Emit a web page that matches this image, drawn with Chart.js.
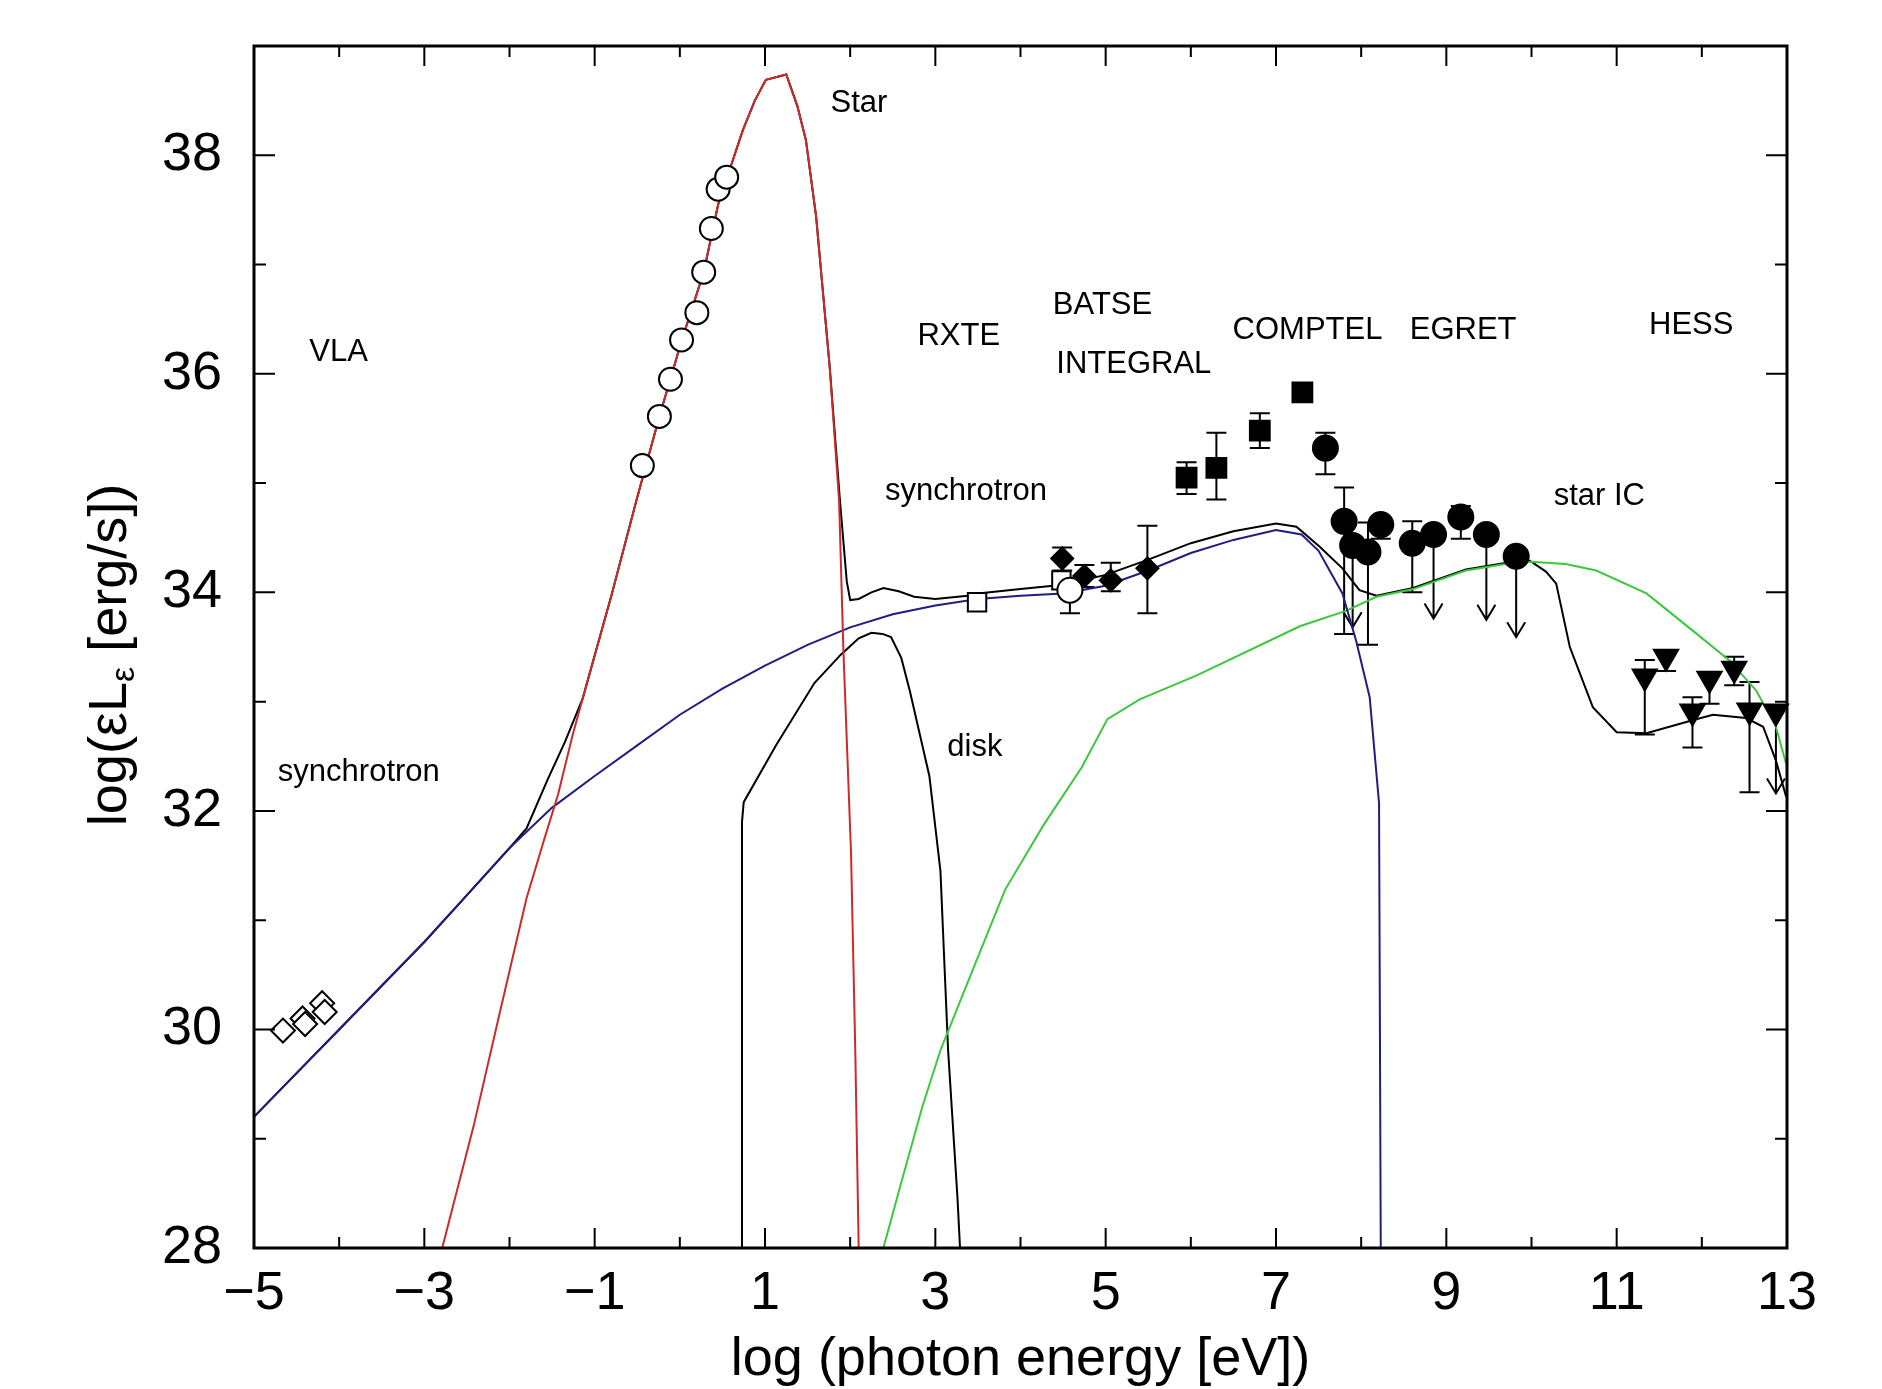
<!DOCTYPE html>
<html>
<head>
<meta charset="utf-8">
<title>SED</title>
<script src="https://cdn.jsdelivr.net/npm/chart.js@4.4.1/dist/chart.umd.min.js"></script>
<style>
  html, body { margin: 0; padding: 0; background: #fff; }
  #sed { display: block; }
</style>
</head>
<body>
<canvas id="sed" width="1882" height="1389"></canvas>
<script>
// axis tick labels
const xTicks = [-5, -3, -1, 1, 3, 5, 7, 9, 11, 13];
const xTickLabels = ["\u22125", "\u22123", "\u22121", "1", "3", "5", "7", "9", "11", "13"];
const yTicks = [28, 30, 32, 34, 36, 38];
const yTickLabels = ["28", "30", "32", "34", "36", "38"];

// model curves
const starX = [-2.79, -2.42, -2.1, -1.8, -1.6, -1.43, -1.26, -1.14, -0.8, -0.51, -0.24, 0.02, 0.28, 0.45, 0.62, 0.74, 0.88, 1.01, 1.25, 1.38, 1.48, 1.6, 1.76, 1.87, 1.92, 2.01, 2.06, 2.1];
const starY = [28.0, 29.12, 30.2, 31.2, 31.72, 32.15, 32.69, 33.03, 33.98, 34.84, 35.61, 36.3, 36.93, 37.55, 37.95, 38.23, 38.5, 38.69, 38.74, 38.45, 38.14, 37.44, 36.06, 34.84, 33.48, 31.62, 29.81, 28.0];

const syncX = [-5, -4.5, -4, -3.5, -3, -2.5, -2, -1.5, -1, -0.5, 0, 0.5, 1, 1.5, 2, 2.5, 3, 3.5, 4, 4.5, 5, 5.5, 6, 6.5, 7, 7.3, 7.5, 7.78, 7.94, 8.1, 8.21, 8.23];
const syncY = [29.2, 29.6, 30.0, 30.4, 30.8, 31.23, 31.66, 32.03, 32.32, 32.6, 32.88, 33.12, 33.33, 33.52, 33.68, 33.8, 33.88, 33.94, 33.97, 33.99, 34.06, 34.2, 34.36, 34.48, 34.57, 34.53, 34.38, 33.99, 33.56, 33.04, 32.07, 28.0];

const totalX = [-5, -4.5, -4, -3.5, -3, -2.5, -2, -1.8, -1.55, -1.35, -1.14, -0.8, -0.51, -0.24, 0.02, 0.28, 0.45, 0.62, 0.74, 0.88, 1.01, 1.25, 1.38, 1.48, 1.6, 1.76, 1.88, 1.96, 2.0, 2.1, 2.25, 2.39, 2.57, 2.75, 3.0, 3.38, 3.5, 4.0, 4.5, 5.0, 5.5, 6.0, 6.5, 7.0, 7.24, 7.51, 7.78, 7.98, 8.18, 8.61, 9.23, 9.78, 9.98, 10.17, 10.29, 10.45, 10.72, 11.0, 11.35, 11.89, 12.13, 12.52, 12.72, 12.87, 12.99];
const totalY = [29.2, 29.6, 30.0, 30.4, 30.8, 31.23, 31.66, 31.84, 32.29, 32.63, 33.03, 33.98, 34.84, 35.61, 36.3, 36.93, 37.55, 37.95, 38.23, 38.5, 38.69, 38.74, 38.45, 38.14, 37.44, 36.06, 34.84, 34.1, 33.93, 33.94, 34.0, 34.04, 34.01, 33.96, 33.94, 33.97, 33.99, 34.03, 34.07, 34.16, 34.3, 34.45, 34.56, 34.63, 34.6, 34.42, 34.22, 34.02, 33.97, 34.04, 34.21, 34.28, 34.29, 34.19, 34.08, 33.5, 32.95, 32.72, 32.71, 32.83, 32.88, 32.85, 32.77, 32.46, 32.13];

const diskX = [0.73, 0.73, 0.75, 1.13, 1.58, 1.89, 2.1, 2.25, 2.38, 2.48, 2.6, 2.7, 2.93, 3.06, 3.15, 3.26, 3.29];
const diskY = [28.0, 31.9, 32.08, 32.6, 33.17, 33.43, 33.58, 33.63, 33.62, 33.59, 33.4, 33.1, 32.32, 31.45, 29.81, 28.46, 28.0];

const icX = [2.39, 2.6, 2.85, 3.06, 3.38, 3.82, 4.27, 4.72, 5.02, 5.4, 6.07, 7.28, 7.82, 8.18, 8.61, 9.23, 9.78, 10.0, 10.4, 10.76, 11.35, 11.94, 12.32, 12.64, 12.87, 12.99];
const icY = [28.0, 28.6, 29.3, 29.81, 30.43, 31.28, 31.87, 32.4, 32.84, 33.02, 33.24, 33.69, 33.83, 33.96, 34.03, 34.2, 34.27, 34.28, 34.26, 34.2, 33.99, 33.62, 33.38, 33.1, 32.77, 32.43];

// observations
const vlaX = [-4.66, -4.43, -4.4, -4.2, -4.17];
const vlaY = [29.99, 30.1, 30.05, 30.24, 30.16];

const opticalX = [-0.44, -0.24, -0.11, 0.02, 0.2, 0.28, 0.37, 0.45, 0.55];
const opticalY = [35.16, 35.61, 35.95, 36.31, 36.56, 36.93, 37.33, 37.69, 37.8];

const rxteX = [3.49, 4.48];
const rxteY = [33.91, 34.11];

const integralX = [4.58];
const integralY = [34.02];
const integralLo = [33.81];
const integralHi = [34.12];

const batseX = [4.49, 4.75, 5.06, 5.49];
const batseY = [34.31, 34.15, 34.11, 34.22];
const batseLo = [34.2, 34.05, 34.01, 33.81];
const batseHi = [34.41, 34.25, 34.27, 34.61];

const comptelX = [5.95, 6.3, 6.81, 7.31];
const comptelY = [35.05, 35.14, 35.48, 35.83];
const comptelLo = [34.9, 34.85, 35.32, 35.83];
const comptelHi = [35.19, 35.46, 35.64, 35.83];

const egretX = [7.58, 7.8, 7.9, 8.08, 8.23, 8.6, 8.85, 9.17, 9.47, 9.82];
const egretY = [35.32, 34.65, 34.43, 34.37, 34.62, 34.45, 34.53, 34.69, 34.53, 34.33];
const egretLo = [35.08, 33.62, 33.68, 33.52, 34.49, 34.0, 33.76, 34.49, 33.75, 33.59];
const egretHi = [35.46, 34.96, 34.43, 34.64, 34.64, 34.65, 34.53, 34.79, 34.53, 34.33];
const egretUL = [0, 0, 1, 0, 0, 0, 1, 0, 1, 1];

const hessX = [11.33, 11.58, 11.89, 12.09, 12.38, 12.56, 12.87];
const hessY = [33.23, 33.41, 32.91, 33.21, 33.3, 32.92, 32.91];
const hessLo = [32.7, 33.28, 32.58, 32.98, 33.15, 32.17, 32.16];
const hessHi = [33.38, 33.41, 33.04, 33.21, 33.41, 33.18, 32.91];
const hessUL = [0, 0, 0, 0, 0, 0, 1];

// text in the plot (anchored in data units)
const noteText = ["Star", "VLA", "RXTE", "BATSE", "INTEGRAL", "COMPTEL", "EGRET", "HESS", "synchrotron", "star IC", "disk", "synchrotron"];
const noteX = [1.77, -4.35, 2.79, 4.38, 4.42, 6.49, 8.57, 11.38, 2.41, 10.26, 3.14, -4.72];
const noteY = [38.47, 36.2, 36.34, 36.63, 36.09, 36.4, 36.4, 36.44, 34.92, 34.88, 32.58, 32.35];

const FONT = "Liberation Sans";

const pts = (xs, ys) => xs.map((x, i) => ({ x: x, y: ys[i] }));

function curve(label, xs, ys, color) {
  return {
    label: label,
    data: pts(xs, ys),
    showLine: true,
    borderColor: color,
    borderWidth: 2,
    pointRadius: 0,
    tension: 0,
    fill: false,
  };
}

function marks(label, xs, ys, style, radius, filled, err) {
  const ds = {
    label: label,
    data: pts(xs, ys),
    showLine: false,
    pointStyle: style,
    pointRadius: radius,
    pointBorderWidth: 2,
    pointBorderColor: "#000",
    pointBackgroundColor: filled ? "#000" : "#fff",
    clip: false,
  };
  if (err) Object.assign(ds, err);
  return ds;
}

// vertical error bars and upper-limit arrows
const errorBars = {
  id: "errorBars",
  beforeDatasetsDraw(chart) {
    const { ctx, chartArea: a, scales: { x, y } } = chart;
    ctx.save();
    ctx.beginPath();
    ctx.rect(a.left, a.top, a.right - a.left, a.bottom - a.top);
    ctx.clip();
    ctx.strokeStyle = "#000";
    ctx.lineWidth = 2;
    chart.data.datasets.forEach((ds) => {
      if (!ds.errLo) return;
      ds.data.forEach((p, i) => {
        const px = x.getPixelForValue(p.x);
        const py = y.getPixelForValue(p.y);
        const lo = y.getPixelForValue(ds.errLo[i]);
        const hi = y.getPixelForValue(ds.errHi[i]);
        ctx.beginPath();
        if (ds.upper && ds.upper[i]) {
          ctx.moveTo(px, py);
          ctx.lineTo(px, lo);
          ctx.moveTo(px - 9, lo - 15);
          ctx.lineTo(px, lo);
          ctx.lineTo(px + 9, lo - 15);
        } else {
          ctx.moveTo(px, hi);
          ctx.lineTo(px, lo);
          if (ds.errLo[i] < p.y) {
            ctx.moveTo(px - 10, lo);
            ctx.lineTo(px + 10, lo);
          }
          if (ds.errHi[i] > p.y) {
            ctx.moveTo(px - 10, hi);
            ctx.lineTo(px + 10, hi);
          }
        }
        ctx.stroke();
      });
    });
    ctx.restore();
  },
};

// box with inward ticks, notes and axis titles
const frame = {
  id: "frame",
  afterDatasetsDraw(chart) {
    const { ctx, chartArea: a, scales: { x, y } } = chart;
    ctx.save();
    ctx.strokeStyle = "#000";
    ctx.lineWidth = 2;
    ctx.beginPath();
    x.ticks.forEach((t) => {
      const px = x.getPixelForValue(t.value);
      const len = xTicks.includes(Math.round(t.value)) ? 20 : 11;
      ctx.moveTo(px, a.bottom);
      ctx.lineTo(px, a.bottom - len);
      ctx.moveTo(px, a.top);
      ctx.lineTo(px, a.top + len);
    });
    y.ticks.forEach((t) => {
      const py = y.getPixelForValue(t.value);
      const len = yTicks.includes(Math.round(t.value)) ? 21 : 12;
      ctx.moveTo(a.left, py);
      ctx.lineTo(a.left + len, py);
      ctx.moveTo(a.right, py);
      ctx.lineTo(a.right - len, py);
    });
    ctx.stroke();
    ctx.lineWidth = 3;
    ctx.strokeRect(a.left, a.top, a.right - a.left, a.bottom - a.top);

    ctx.fillStyle = "#000";
    ctx.font = "31px '" + FONT + "'";
    ctx.textAlign = "left";
    ctx.textBaseline = "middle";
    noteText.forEach((t, i) => {
      ctx.fillText(t, x.getPixelForValue(noteX[i]), y.getPixelForValue(noteY[i]));
    });
    ctx.restore();
  },
  afterDraw(chart) {
    const { ctx, chartArea: a } = chart;
    ctx.save();
    ctx.fillStyle = "#000";
    ctx.textBaseline = "middle";
    ctx.font = "54px '" + FONT + "'";
    ctx.textAlign = "center";
    ctx.fillText("log (photon energy [eV])", (a.left + a.right) / 2, 1360);

    // y title with subscript epsilon
    const p1 = "log(\u03B5L";
    const sub = "\u03B5";
    const p2 = " [erg/s])";
    ctx.font = "54px '" + FONT + "'";
    const w1 = ctx.measureText(p1).width;
    const w3 = ctx.measureText(p2).width;
    ctx.font = "34px '" + FONT + "'";
    const w2 = ctx.measureText(sub).width;
    const total = w1 + w2 + w3;
    ctx.translate(111, (a.top + a.bottom) / 2 + 8);
    ctx.rotate(-Math.PI / 2);
    ctx.textAlign = "left";
    ctx.font = "54px '" + FONT + "'";
    ctx.fillText(p1, -total / 2, 0);
    ctx.font = "34px '" + FONT + "'";
    ctx.fillText(sub, -total / 2 + w1, 14);
    ctx.font = "54px '" + FONT + "'";
    ctx.fillText(p2, -total / 2 + w1 + w2, 0);
    ctx.restore();
  },
};

Chart.defaults.font.family = FONT;
Chart.defaults.color = "#000";

const datasets = [
  marks("HESS", hessX, hessY, "triangle", 14, true, { errLo: hessLo, errHi: hessHi, upper: hessUL, pointRotation: 180 }),
  marks("EGRET", egretX, egretY, "circle", 12.5, true, { errLo: egretLo, errHi: egretHi, upper: egretUL }),
  marks("COMPTEL", comptelX, comptelY, "rect", 14, true, { errLo: comptelLo, errHi: comptelHi }),
  marks("BATSE", batseX, batseY, "rectRot", 11, true, { errLo: batseLo, errHi: batseHi }),
  marks("INTEGRAL", integralX, integralY, "circle", 12.5, false, { errLo: integralLo, errHi: integralHi }),
  marks("RXTE", rxteX, rxteY, "rect", 13, false),
  marks("optical", opticalX, opticalY, "circle", 11.5, false),
  marks("VLA", vlaX, vlaY, "rectRot", 12, false),
  curve("star", starX, starY, "#cc2a2a"),
  curve("synchrotron", syncX, syncY, "#1e1e82"),
  curve("star IC", icX, icY, "#3cc83c"),
  curve("disk", diskX, diskY, "#000"),
  curve("total", totalX, totalY, "#000"),
];

new Chart(document.getElementById("sed"), {
  type: "scatter",
  data: { datasets: datasets },
  options: {
    responsive: false,
    animation: false,
    events: [],
    layout: { padding: { top: 46, right: 95, left: 0, bottom: 0 } },
    plugins: { legend: { display: false }, tooltip: { enabled: false } },
    scales: {
      x: {
        type: "linear",
        min: -5,
        max: 13,
        afterFit: (s) => {
          s.height = 141;
          s.paddingLeft = 0;
          s.paddingRight = 0;
        },
        grid: { display: false, drawTicks: false },
        border: { display: false },
        ticks: {
          stepSize: 1,
          autoSkip: false,
          maxRotation: 0,
          padding: 14,
          font: { family: FONT, size: 54 },
          callback: (v) => {
            const i = xTicks.indexOf(Math.round(v));
            return i >= 0 ? xTickLabels[i] : "";
          },
        },
      },
      y: {
        type: "linear",
        min: 28,
        max: 39,
        afterFit: (s) => {
          s.width = 254;
          s.paddingTop = 0;
          s.paddingBottom = 0;
        },
        grid: { display: false, drawTicks: false },
        border: { display: false },
        ticks: {
          stepSize: 1,
          autoSkip: false,
          padding: 32,
          font: { family: FONT, size: 54 },
          callback: (v) => {
            const i = yTicks.indexOf(Math.round(v));
            return i >= 0 ? yTickLabels[i] : "";
          },
        },
      },
    },
  },
  plugins: [errorBars, frame],
});
</script>
</body>
</html>
